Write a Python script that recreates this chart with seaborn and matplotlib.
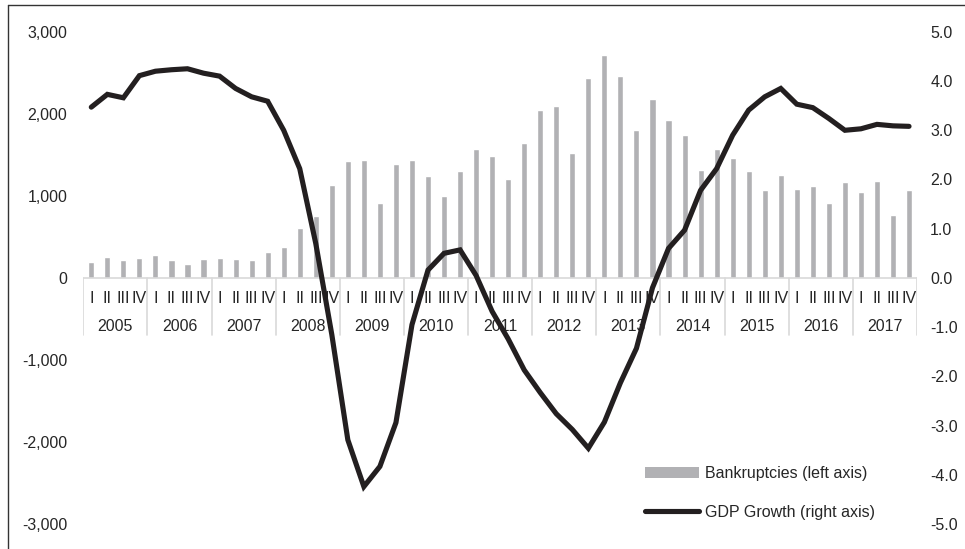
import numpy as np
import pandas as pd
import matplotlib
matplotlib.use("Agg")
import matplotlib.pyplot as plt
import seaborn as sns
from matplotlib.lines import Line2D
from matplotlib.patches import Patch
from matplotlib.ticker import FuncFormatter

years = [str(y) for y in range(2005, 2018)]
quarters = ["I", "II", "III", "IV"]

bankruptcies = [
    200, 252, 223, 240,
    277, 220, 175, 232,
    248, 236, 223, 317,
    382, 614, 752, 1138,
    1431, 1439, 915, 1383,
    1432, 1244, 1000, 1301,
    1566, 1484, 1200, 1647,
    2045, 2090, 1521, 2435,
    2712, 2456, 1801, 2176,
    1927, 1737, 1317, 1570,
    1456, 1301, 1066, 1256,
    1082, 1122, 911, 1171,
    1049, 1183, 765, 1078,
]

gdp_growth = [
    3.47, 3.73, 3.66, 4.11,
    4.20, 4.23, 4.25, 4.16,
    4.10, 3.85, 3.68, 3.59,
    3.00, 2.22, 0.70, -1.15,
    -3.29, -4.24, -3.83, -2.94,
    -0.95, 0.16, 0.50, 0.57,
    0.05, -0.68, -1.24, -1.87,
    -2.33, -2.76, -3.08, -3.46,
    -2.93, -2.13, -1.43, -0.20,
    0.60, 0.97, 1.78, 2.22,
    2.90, 3.41, 3.68, 3.85,
    3.53, 3.46, 3.24, 3.00,
    3.03, 3.12, 3.09, 3.08,
]

left_ticks = [-3000, -2000, -1000, 0, 1000, 2000, 3000]
right_ticks = [-5, -4, -3, -2, -1, 0, 1, 2, 3, 4, 5]

bar_label = "Bankruptcies (left axis)"
line_label = "GDP Growth (right axis)"

bar_color = "#b1b1b4"
line_color = "#231f20"
sep_color = "#d9d9d9"
text_color = "#262626"

n = len(bankruptcies)
df = pd.DataFrame({
    "idx": np.arange(n),
    "year": np.repeat(years, 4),
    "quarter": quarters * len(years),
    "bankruptcies": bankruptcies,
    "gdp": gdp_growth,
})

sns.set_theme(style="white")
plt.rcParams["font.family"] = ["Liberation Sans", "DejaVu Sans"]
fs = 11.5

fig = plt.figure(figsize=(9.65, 5.49), dpi=100)
ax = fig.add_axes([0.0863, 0.0455, 0.864, 0.8965])

sns.barplot(data=df, x="idx", y="bankruptcies", color=bar_color,
            saturation=1, width=0.38, ax=ax, errorbar=None)
ax.set_xlim(-0.5, n - 0.5)
ax.set_ylim(-3000, 3000)
ax.set_yticks(left_ticks)
ax.yaxis.set_major_formatter(FuncFormatter(lambda v, p: f"{int(v):,}"))
ax.set_xticks([])
ax.set_xlabel("")
ax.set_ylabel("")
ax.tick_params(axis="y", length=0, pad=11.5, labelsize=fs, labelcolor=text_color)
for s in ax.spines.values():
    s.set_visible(False)

# category axis (multi-level)
ax.plot([-0.5, n - 0.5], [0, 0], color=sep_color, lw=1.2, zorder=1)
for k in range(len(years) + 1):
    xs = k * 4 - 0.5
    ax.plot([xs, xs], [0, -700], color=sep_color, lw=1.2, zorder=1)
for i in range(n):
    ax.text(i, -255, df["quarter"][i], ha="center", va="center",
            fontsize=fs, color=text_color)
for k, y in enumerate(years):
    ax.text(k * 4 + 1.5, -590, y, ha="center", va="center",
            fontsize=fs, color=text_color)

ax2 = ax.twinx()
sns.lineplot(data=df, x="idx", y="gdp", ax=ax2, color=line_color,
             lw=3.7, solid_capstyle="round", solid_joinstyle="miter")
ax2.set_ylim(-5, 5)
ax2.set_yticks(right_ticks)
ax2.yaxis.set_major_formatter(FuncFormatter(lambda v, p: f"{v:.1f}"))
ax2.set_xlim(-0.5, n - 0.5)
ax2.set_xlabel("")
ax2.set_ylabel("")
ax2.tick_params(axis="y", length=0, pad=9.5, labelsize=fs, labelcolor=text_color)
for s in ax2.spines.values():
    s.set_visible(False)

handles = [
    Patch(facecolor=bar_color, edgecolor="none", label=bar_label),
    Line2D([0], [0], color=line_color, lw=3.7, solid_capstyle="round", label=line_label),
]
fig.legend(handles=handles, loc="center left", bbox_to_anchor=(0.668, 0.102),
           frameon=False, fontsize=fs, handlelength=3.4, handletextpad=0.35,
           borderpad=0, borderaxespad=0, labelspacing=1.45, labelcolor=text_color)

# outer frame (top and left edges visible)
fig.add_artist(Line2D([8 / 965, 1.0], [1 - 5 / 549, 1 - 5 / 549],
                      transform=fig.transFigure, color="#333333", lw=1.0))
fig.add_artist(Line2D([8 / 965, 8 / 965], [0.0, 1 - 5 / 549],
                      transform=fig.transFigure, color="#333333", lw=1.0))

fig.savefig("out.png", dpi=100)
